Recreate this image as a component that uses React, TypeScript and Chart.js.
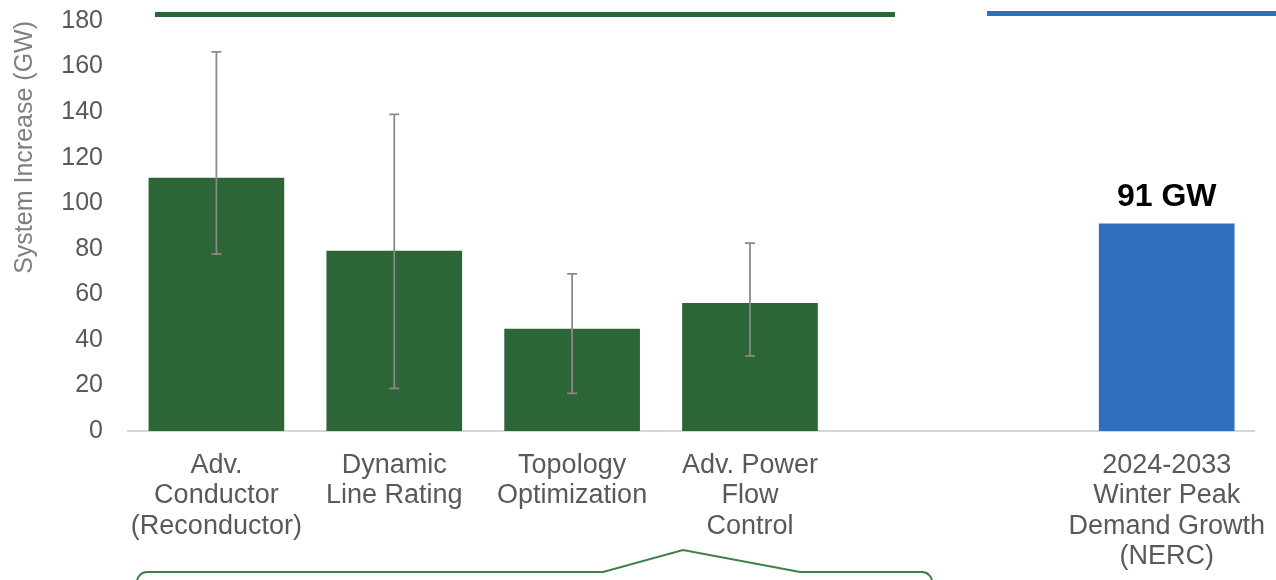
import React, { useEffect, useRef } from "react";
import { Chart, registerables } from "chart.js";

Chart.register(...registerables);

// ---- data ----
const greenCategories: string[][] = [
  ["Adv.", "Conductor", "(Reconductor)"],
  ["Dynamic", "Line Rating"],
  ["Topology", "Optimization"],
  ["Adv. Power", "Flow", "Control"],
];
const greenValues = [111, 79, 44.7, 56];
const errorLow = [77.6, 18.7, 16.5, 33];
const errorHigh = [166.5, 139, 69, 82.5];

const blueCategory = ["2024-2033", "Winter Peak", "Demand Growth", "(NERC)"];
const blueValue = 91;
const blueLabel = "91 GW";

const yTicksMax = 180;
const yTickStep = 20;
const yTitle = "System Increase (GW)";

// ---- layout constants ----
const BLUE_GAP = 2.343; // gap (in category units) between last green bar and blue bar
const FONT = "'Liberation Sans', Arial, sans-serif";
const GREEN = "#2c6536";
const BLUE = "#2f6fbe";

export default function App() {
  const ref = useRef<HTMLCanvasElement | null>(null);

  useEffect(() => {
    if (!ref.current) return;
    const greenX = greenValues.map((_, i) => i + 1);
    const blueX = greenValues.length + BLUE_GAP;
    const positions = [...greenX, blueX];
    const labels = [...greenCategories, blueCategory];

    const overlay = {
      id: "overlay",
      afterDatasetsDraw(chart: any) {
        const ctx = chart.ctx as CanvasRenderingContext2D;
        const xs = chart.scales.x;
        const ys = chart.scales.y;
        // error bars
        ctx.save();
        ctx.strokeStyle = "#8a8a8a";
        ctx.lineWidth = 1.75;
        greenValues.forEach((_, i) => {
          const x = xs.getPixelForValue(greenX[i]);
          const y1 = ys.getPixelForValue(errorLow[i]);
          const y2 = ys.getPixelForValue(errorHigh[i]);
          ctx.beginPath();
          ctx.moveTo(x, y1);
          ctx.lineTo(x, y2);
          ctx.moveTo(x - 5, y1);
          ctx.lineTo(x + 5, y1);
          ctx.moveTo(x - 5, y2);
          ctx.lineTo(x + 5, y2);
          ctx.stroke();
        });
        // value label
        const bx = xs.getPixelForValue(blueX);
        const by = ys.getPixelForValue(blueValue);
        ctx.fillStyle = "#000";
        ctx.font = `bold 32px ${FONT}`;
        ctx.textAlign = "center";
        ctx.textBaseline = "middle";
        ctx.fillText(blueLabel, bx, by - 27);
        ctx.restore();
      },
      afterDraw(chart: any) {
        const ctx = chart.ctx as CanvasRenderingContext2D;
        ctx.save();
        // header rules
        ctx.lineWidth = 5;
        ctx.strokeStyle = GREEN;
        ctx.beginPath();
        ctx.moveTo(155, 14.5);
        ctx.lineTo(895, 14.5);
        ctx.stroke();
        ctx.strokeStyle = BLUE;
        ctx.beginPath();
        ctx.moveTo(987, 13.5);
        ctx.lineTo(1276, 13.5);
        ctx.stroke();
        // callout box
        ctx.strokeStyle = "#3f7f4a";
        ctx.lineWidth = 2;
        ctx.beginPath();
        ctx.moveTo(137, 590);
        ctx.lineTo(137, 582);
        ctx.arcTo(137, 572, 147, 572, 10);
        ctx.lineTo(603, 572);
        ctx.lineTo(683, 550);
        ctx.lineTo(800, 572);
        ctx.lineTo(922, 572);
        ctx.arcTo(932, 572, 932, 582, 10);
        ctx.lineTo(932, 590);
        ctx.stroke();
        ctx.restore();
      },
    };

    const chart = new Chart(ref.current, {
      type: "bar",
      data: {
        datasets: [
          {
            data: greenValues.map((v, i) => ({ x: greenX[i], y: v })),
            backgroundColor: GREEN,
            barThickness: 135,
            grouped: false,
            borderWidth: 0,
          },
          {
            data: [{ x: blueX, y: blueValue }],
            backgroundColor: BLUE,
            barThickness: 135,
            grouped: false,
            borderWidth: 0,
          },
        ],
      } as any,
      options: {
        responsive: false,
        animation: false,
        devicePixelRatio: 1,
        layout: { padding: { top: 21, right: 0, left: 0, bottom: 0 } },
        plugins: { legend: { display: false }, tooltip: { enabled: false } },
        scales: {
          x: {
            type: "linear",
            min: 0.503,
            max: 6.834,
            offset: false,
            grid: { display: false, offset: false },
            border: { display: true, color: "#d6d6d6", width: 2 },
            afterBuildTicks: (s: any) => {
              s.ticks = positions.map((v) => ({ value: v }));
            },
            afterFit: (s: any) => {
              s.height = 149;
            },
            ticks: {
              autoSkip: false,
              maxRotation: 0,
              minRotation: 0,
              padding: 11,
              color: "#595959",
              font: { family: FONT, size: 27, lineHeight: 1.13 },
              callback: (_v: any, i: number) => labels[i],
            },
          },
          y: {
            min: 0,
            max: yTicksMax,
            grid: { display: false },
            border: { display: false },
            afterFit: (s: any) => {
              s.width = 128;
              s.paddingTop = 0;
              s.paddingBottom = 0;
            },
            ticks: {
              stepSize: yTickStep,
              padding: 17,
              color: "#595959",
              font: { family: FONT, size: 25 },
            },
            title: {
              display: true,
              text: yTitle,
              align: "end",
              color: "#7f7f7f",
              font: { family: FONT, size: 25 },
              padding: { top: 10, bottom: 0 },
            },
          },
        },
      } as any,
      plugins: [overlay],
    });
    return () => chart.destroy();
  }, []);

  return (
    <div style={{ position: "fixed", left: 0, top: 0, width: 1276, height: 580, background: "#fff" }}>
      <canvas ref={ref} width={1276} height={580} style={{ display: "block" }} />
    </div>
  );
}
